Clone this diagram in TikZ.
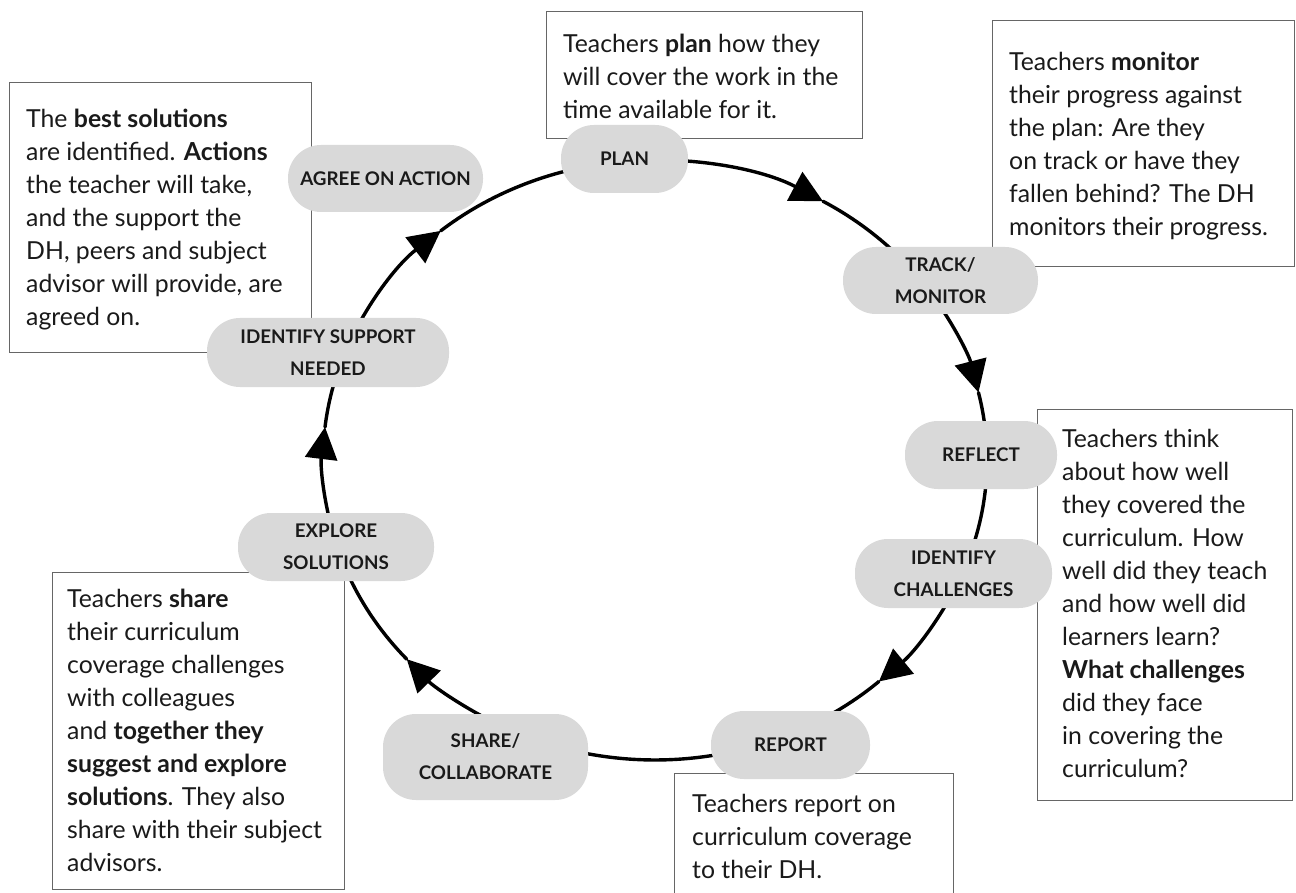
\documentclass[tikz,border=0pt]{standalone}
\usepackage{fontspec}
\setmainfont{Lato}
\usetikzlibrary{arrows.meta,calc}
\definecolor{nodegray}{HTML}{D9D9D9}
\definecolor{boxline}{HTML}{666666}
\definecolor{ink}{HTML}{1A1A1A}
\newcommand{\firstline}{\rule{0pt}{25pt}}
\begin{document}
\begin{tikzpicture}[x=1pt,y=-1pt,
  stage/.style={fill=nodegray, rounded corners=33pt, align=center,
    font=\fontsize{18.8}{32}\selectfont\bfseries, text=ink, inner sep=0pt},
  textbox/.style={draw=boxline, line width=1.2pt, fill=white, inner sep=0pt, anchor=north west},
  body/.style={font=\fontsize{24.8}{33}\selectfont, text=ink, align=left, anchor=north west, inner sep=0pt},
  cycleline/.style={line width=3.4pt, draw=black, line cap=round},
  tipped/.style={-{Triangle[length=32pt,width=32pt]}}
]
\useasboundingbox (0,0) rectangle (1296,893);
\clip (0,0) rectangle (1296,893);

% text boxes (text nodes placed so that the first baseline is 25pt below their top)
\node[textbox, minimum width=316pt, minimum height=127pt] (planbox) at (546,11) {};
\node[body] (plantext) at (563,27) {\firstline Teachers \textbf{plan} how they\\will cover the work in the\\time available for it.};

\node[textbox, minimum width=302pt, minimum height=270pt] (agreebox) at (9,82) {};
\node[body] (agreetext) at (26,102) {\firstline The \textbf{best solutions}\\are identified. \textbf{Actions}\\the teacher will take,\\and the support the\\DH, peers and subject\\advisor will provide, are\\agreed on.};

\node[textbox, minimum width=302pt, minimum height=246pt] (monbox) at (992,20) {};
\node[body] (montext) at (1009,45) {\firstline Teachers \textbf{monitor}\\their progress against\\the plan: Are they\\on track or have they\\fallen behind? The DH\\monitors their progress.};

\node[textbox, minimum width=255pt, minimum height=391pt] (refbox) at (1037,409) {};
\node[body] (reftext) at (1062,422) {\firstline Teachers think\\about how well\\they covered the\\curriculum. How\\well did they teach\\and how well did\\learners learn?\\\textbf{What challenges}\\did they face\\in covering the\\curriculum?};

\node[textbox, minimum width=292pt, minimum height=317pt] (sharebox) at (52,572) {};
\node[body] (sharetext) at (67,582) {\firstline Teachers \textbf{share}\\their curriculum\\coverage challenges\\with colleagues\\and \textbf{together they}\\\textbf{suggest and explore}\\\textbf{solutions}. They also\\share with their subject\\advisors.};

\node[textbox, minimum width=279pt, minimum height=140pt] (repbox) at (674,773) {};
\node[body] (reptext) at (692,787) {\firstline Teachers report on\\curriculum coverage\\to their DH.};

% the cycle (elliptical arcs between the stages)
\coordinate (C) at (655,460);
\foreach \s/\t/\e in {264.7/300.4/325, 325/347/359, 22.8/47.6/66.8, 117.3/138.4/163.2, 163.2/186.3/200, 200/229.8/240}{
  \draw[cycleline, tipped] (C) ++(\s:332 and 300) arc[start angle=\s, end angle=\t, x radius=332, y radius=300];
  \draw[cycleline] (C) ++(\t:332 and 300) arc[start angle=\t, end angle=\e, x radius=332, y radius=300];
}
\foreach \s/\e in {359/382.8, 66.8/117.3, 240/264.7}{
  \draw[cycleline] (C) ++(\s:332 and 300) arc[start angle=\s, end angle=\e, x radius=332, y radius=300];
}

% stages
\node[stage, minimum width=127pt, minimum height=68pt] (plan) at (624.5,159) {PLAN};
\node[stage, minimum width=195pt, minimum height=67pt] (track) at (940.5,280.5) {TRACK/\\MONITOR};
\node[stage, minimum width=152pt, minimum height=68pt] (reflect) at (981,455) {REFLECT};
\node[stage, minimum width=197pt, minimum height=69pt] (challenges) at (953.5,573.5) {IDENTIFY\\CHALLENGES};
\node[stage, minimum width=159pt, minimum height=68pt] (report) at (790.5,745) {REPORT};
\node[stage, minimum width=205pt, minimum height=86pt] (share) at (485.5,757) {SHARE/\\COLLABORATE};
\node[stage, minimum width=196pt, minimum height=68pt] (explore) at (336,547) {EXPLORE\\SOLUTIONS};
\node[stage, minimum width=242pt, minimum height=69pt] (support) at (328,352.5) {IDENTIFY SUPPORT\\NEEDED};
\node[stage, minimum width=195pt, minimum height=67pt] (agree) at (385.5,178.5) {AGREE ON ACTION};
\end{tikzpicture}
\end{document}
